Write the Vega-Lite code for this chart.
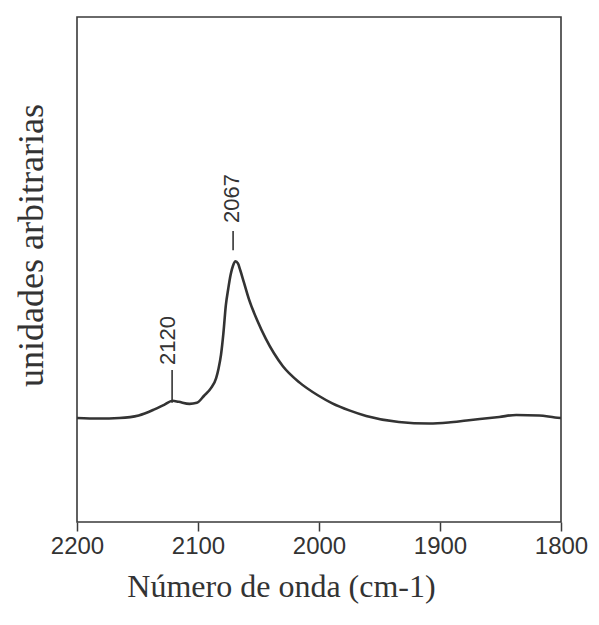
{
  "$schema": "https://vega.github.io/schema/vega-lite/v6.json",
  "autosize": {"type": "none"},
  "padding": {"left": 77, "top": 17, "right": 38, "bottom": 103},
  "width": 484,
  "height": 505,
  "background": "white",
  "config": {
    "view": {"stroke": "#3a3a3a", "strokeWidth": 1.6}
  },
  "datasets": {
    "spectrum": [
      {"w": 2200, "a": 20.6}, {"w": 2182, "a": 20.5}, {"w": 2165, "a": 20.6},
      {"w": 2149, "a": 21.1}, {"w": 2136, "a": 22.3}, {"w": 2128, "a": 23.2},
      {"w": 2121, "a": 24.0}, {"w": 2116, "a": 23.8}, {"w": 2107, "a": 23.4},
      {"w": 2101, "a": 23.6}, {"w": 2095, "a": 25.0}, {"w": 2089, "a": 26.6},
      {"w": 2085, "a": 28.5}, {"w": 2083, "a": 30.4}, {"w": 2081, "a": 33.1},
      {"w": 2079, "a": 37.4}, {"w": 2077, "a": 42.9}, {"w": 2075, "a": 46.2},
      {"w": 2073, "a": 49.0}, {"w": 2071, "a": 50.8}, {"w": 2069, "a": 51.6},
      {"w": 2067, "a": 51.2}, {"w": 2065, "a": 49.8}, {"w": 2062, "a": 47.4},
      {"w": 2058, "a": 44.2}, {"w": 2051, "a": 39.9},
      {"w": 2044, "a": 36.3}, {"w": 2030, "a": 30.9}, {"w": 2016, "a": 27.6},
      {"w": 2001, "a": 25.1}, {"w": 1989, "a": 23.5}, {"w": 1975, "a": 22.1},
      {"w": 1961, "a": 21.0}, {"w": 1934, "a": 19.8}, {"w": 1909, "a": 19.5},
      {"w": 1893, "a": 19.7}, {"w": 1878, "a": 20.1}, {"w": 1851, "a": 20.8},
      {"w": 1837, "a": 21.2}, {"w": 1818, "a": 21.1}, {"w": 1805, "a": 20.7},
      {"w": 1800, "a": 20.6}
    ],
    "peaks": [
      {"label": "2120", "w": 2121.4, "lo": 23.6, "hi": 30.1, "tw": 2125, "ta": 31.1},
      {"label": "2067", "w": 2071, "lo": 53.8, "hi": 57.6, "tw": 2071.5, "ta": 59.2}
    ]
  },
  "layer": [
    {
      "data": {"name": "spectrum"},
      "mark": {"type": "line", "color": "#333333", "strokeWidth": 2.6, "interpolate": "monotone", "clip": true},
      "encoding": {
        "x": {
          "field": "w", "type": "quantitative",
          "scale": {"domain": [2200, 1800], "nice": false, "zero": false},
          "axis": {
            "values": [2200, 2100, 2000, 1900, 1800],
            "format": "d",
            "domain": false,
            "grid": false,
            "tickColor": "#3a3a3a",
            "tickSize": 9,
            "tickWidth": 1.5,
            "labelFont": "Liberation Sans",
            "labelFontSize": 24,
            "labelColor": "#333333",
            "labelPadding": 3,
            "labelFlush": false,
            "labelOverlap": false,
            "title": "Número de onda (cm-1)",
            "titleFont": "Liberation Serif",
            "titleFontSize": 32,
            "titleFontWeight": "normal",
            "titleColor": "#333333",
            "titleX": 204,
            "titleY": 74,
            "titleAlign": "center",
            "titleBaseline": "alphabetic"
          }
        },
        "y": {
          "field": "a", "type": "quantitative",
          "scale": {"domain": [0, 100], "nice": false},
          "axis": {
            "domain": false,
            "ticks": false,
            "labels": false,
            "grid": false,
            "title": "unidades arbitrarias",
            "titleFont": "Liberation Serif",
            "titleFontSize": 36,
            "titleFontWeight": "normal",
            "titleColor": "#333333",
            "titleAngle": -90,
            "titleX": -35,
            "titleY": 228,
            "titleAlign": "center",
            "titleBaseline": "alphabetic"
          }
        }
      }
    },
    {
      "data": {"name": "peaks"},
      "mark": {"type": "rule", "color": "#333333", "strokeWidth": 1.6},
      "encoding": {
        "x": {"field": "w", "type": "quantitative"},
        "y": {"field": "lo", "type": "quantitative"},
        "y2": {"field": "hi"}
      }
    },
    {
      "data": {"name": "peaks"},
      "mark": {
        "type": "text", "angle": 270, "align": "left", "baseline": "middle",
        "font": "Liberation Sans", "fontSize": 22, "color": "#333333"
      },
      "encoding": {
        "x": {"field": "tw", "type": "quantitative"},
        "y": {"field": "ta", "type": "quantitative"},
        "text": {"field": "label", "type": "nominal"}
      }
    }
  ]
}
